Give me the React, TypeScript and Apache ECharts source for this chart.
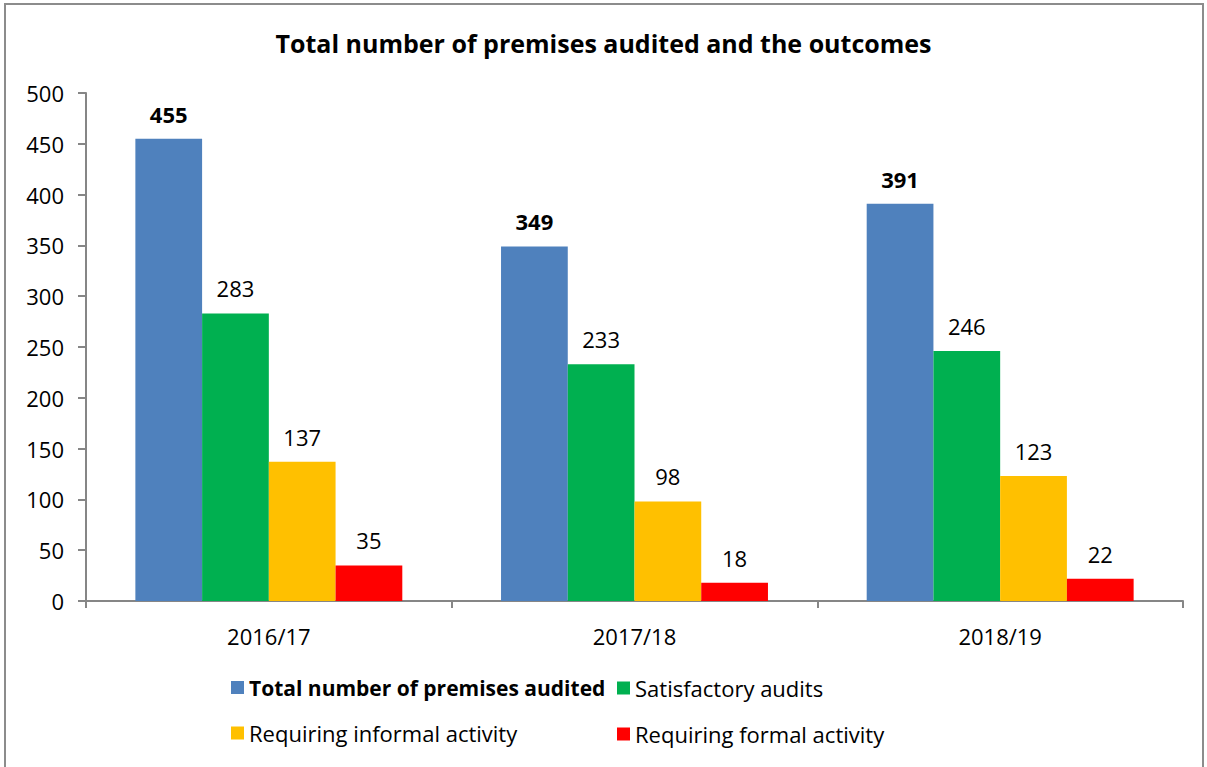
import React, { useEffect, useRef } from "react";
import * as echarts from "echarts";

const categories = ["2016/17", "2017/18", "2018/19"];
const seriesNames = [
  "Total number of premises audited",
  "Satisfactory audits",
  "Requiring informal activity",
  "Requiring formal activity",
];
const totalAudited = [455, 349, 391];
const satisfactory = [283, 233, 246];
const informal = [137, 98, 123];
const formal = [35, 18, 22];
const yTicks = [0, 50, 100, 150, 200, 250, 300, 350, 400, 450, 500];

const colors = ["#4F81BD", "#00B050", "#FFC000", "#FF0000"];
const FONT = "'Open Sans', 'Noto Sans', sans-serif";

export default function App() {
  const ref = useRef<HTMLDivElement>(null);
  useEffect(() => {
    if (!ref.current) return;
    const chart = echarts.init(ref.current, undefined, { renderer: "svg" });
    const values = [totalAudited, satisfactory, informal, formal];
    chart.setOption({
      animation: false,
      backgroundColor: "#ffffff",
      textStyle: { fontFamily: FONT },
      title: {
        text: "Total number of premises audited and the outcomes",
        left: "center",
        top: 30,
        padding: 0,
        textStyle: { fontFamily: FONT, fontSize: 25, fontWeight: "bold", color: "#000" },
      },
      graphic: [
        {
          type: "rect",
          shape: { x: 5, y: 4, width: 1198, height: 780 },
          style: { fill: "none", stroke: "#8c8c8c", lineWidth: 2 },
          silent: true,
        },
      ],
      legend: [
        {
          orient: "vertical",
          left: 231,
          top: 677,
          padding: 0,
          itemGap: 24,
          itemWidth: 13,
          itemHeight: 13,
          icon: "rect",
          textStyle: { fontFamily: FONT, fontSize: 22, color: "#000" },
          data: [
            { name: seriesNames[0], textStyle: { fontWeight: "bold", fontSize: 21 } },
            { name: seriesNames[2] },
          ],
        },
        {
          orient: "vertical",
          left: 617,
          top: 677,
          padding: 0,
          itemGap: 24,
          itemWidth: 13,
          itemHeight: 13,
          icon: "rect",
          textStyle: { fontFamily: FONT, fontSize: 22, color: "#000" },
          data: [{ name: seriesNames[1] }, { name: seriesNames[3] }],
        },
      ],
      grid: { left: 86, right: 24, top: 93, bottom: 166, containLabel: false },
      xAxis: {
        type: "category",
        data: categories,
        axisLine: { lineStyle: { color: "#868686", width: 2 } },
        axisTick: { show: true, length: 7, inside: false, lineStyle: { color: "#868686", width: 2 } },
        axisLabel: { fontFamily: FONT, fontSize: 22, color: "#000", margin: 24 },
      },
      yAxis: {
        type: "value",
        min: yTicks[0],
        max: yTicks[yTicks.length - 1],
        interval: 50,
        splitLine: { show: false },
        axisLine: { show: true, lineStyle: { color: "#868686", width: 2 } },
        axisTick: { show: true, length: 8, lineStyle: { color: "#868686", width: 2 } },
        axisLabel: { fontFamily: FONT, fontSize: 22, color: "#000", margin: 22 },
      },
      series: seriesNames.map((name, i) => ({
        name,
        type: "bar",
        data: values[i],
        barGap: "0%",
        barCategoryGap: "27%",
        itemStyle: { color: colors[i] },
        label: {
          show: true,
          position: "top",
          distance: 14,
          fontFamily: FONT,
          fontSize: 22,
          color: "#000",
          fontWeight: i === 0 ? "bold" : "normal",
        },
      })),
    });
    return () => chart.dispose();
  }, []);
  return (
    <div
      ref={ref}
      style={{ position: "fixed", left: 0, top: 0, width: 1207, height: 767 }}
    />
  );
}
